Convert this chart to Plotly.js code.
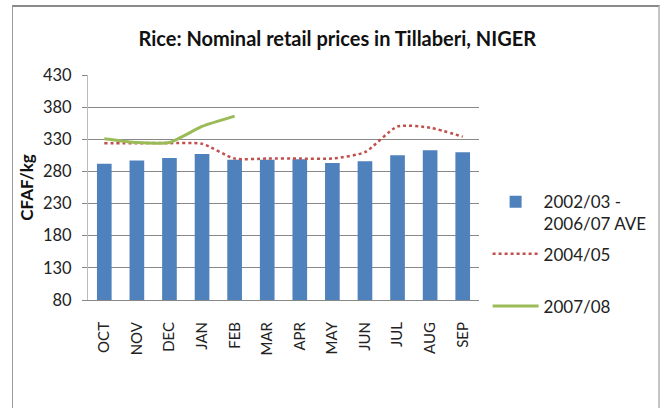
<!DOCTYPE html>
<html>
<head>
<meta charset="utf-8">
<script src="https://cdn.plot.ly/plotly-3.0.1.min.js"></script>
<style>
  html, body { margin: 0; padding: 0; background: #fff; }
  #chart { width: 664px; height: 408px; position: relative; }
  #frame { position: absolute; left: 12px; top: 5px; width: 648px; height: 410px;
           border-top: 2px solid #8a8a8a; border-left: 1px solid #9a9a9a; border-right: 2px solid #c4c4c4;
           pointer-events: none; box-sizing: border-box; }
</style>
</head>
<body>
<div id="chart"></div>
<div id="frame"></div>
<script>
const months = ["OCT","NOV","DEC","JAN","FEB","MAR","APR","MAY","JUN","JUL","AUG","SEP"];
const avgValues = [292, 297, 301, 307, 298, 298, 299, 293, 296, 305, 313, 310];
const y0405Values = [324, 324, 324, 323, 300, 300, 300, 300, 310, 350, 348, 334];
const y0708Months = ["OCT","NOV","DEC","JAN","FEB"];
const y0708Values = [331, 325, 325, 350, 366];
const yTicks = [80, 130, 180, 230, 280, 330, 380, 430];

const FONT = "Lato, 'Liberation Sans', Arial, sans-serif";

const traces = [
  {
    type: "bar", x: months, y: avgValues,
    name: "2002/03 -<br>2006/07 AVE",
    marker: { color: "#4F81BD" },
    legendgroup: "a"
  },
  {
    type: "scatter", mode: "lines", x: months, y: y0405Values,
    name: "2004/05<br> ",
    line: { color: "#C0504D", width: 2.5, dash: "dot", shape: "spline", smoothing: 0.6 },
    legendgroup: "b"
  },
  {
    type: "scatter", mode: "lines", x: y0708Months, y: y0708Values,
    name: "2007/08",
    line: { color: "#9BBB59", width: 3, shape: "spline", smoothing: 0.5 },
    legendgroup: "c"
  }
];

const layout = {
  width: 664, height: 408,
  margin: { l: 88, r: 182, t: 75, b: 108 },
  paper_bgcolor: "#ffffff", plot_bgcolor: "#ffffff",
  font: { family: FONT, color: "#222" },
  title: {
    text: "<b>Rice: Nominal retail prices in Tillaberi, NIGER</b>",
    font: { family: FONT, size: 20, color: "#111" },
    x: 0.508, xanchor: "center", y: 0.905, yanchor: "middle"
  },
  bargap: 0.55,
  xaxis: {
    type: "category",
    tickangle: -90,
    tickfont: { family: FONT, size: 15, color: "#222" },
    ticks: "outside", ticklen: 15, tickcolor: "rgba(0,0,0,0)",
    showline: true, linecolor: "#888", linewidth: 1,
    showgrid: false, zeroline: false
  },
  yaxis: {
    range: [80, 430],
    tickvals: yTicks,
    tickfont: { family: FONT, size: 16.5, color: "#222" },
    ticks: "outside", ticklen: 5, tickcolor: "#888",
    ticklabelstandoff: 7,
    showgrid: true, gridcolor: "#888", gridwidth: 1,
    showline: true, linecolor: "#bbb", linewidth: 1,
    zeroline: false,
    title: { text: "<b>CFAF/kg</b>", font: { family: FONT, size: 17, color: "#111" }, standoff: 5 }
  },
  legend: {
    x: 1.022, xanchor: "left", y: 0.515, yanchor: "top",
    font: { family: FONT, size: 17, color: "#222" },
    valign: "top",
    tracegroupgap: 5,
    itemwidth: 46,
    bgcolor: "rgba(0,0,0,0)"
  },
  showlegend: true
};

Plotly.newPlot("chart", traces, layout, { displayModeBar: false, staticPlot: true });
</script>
</body>
</html>
